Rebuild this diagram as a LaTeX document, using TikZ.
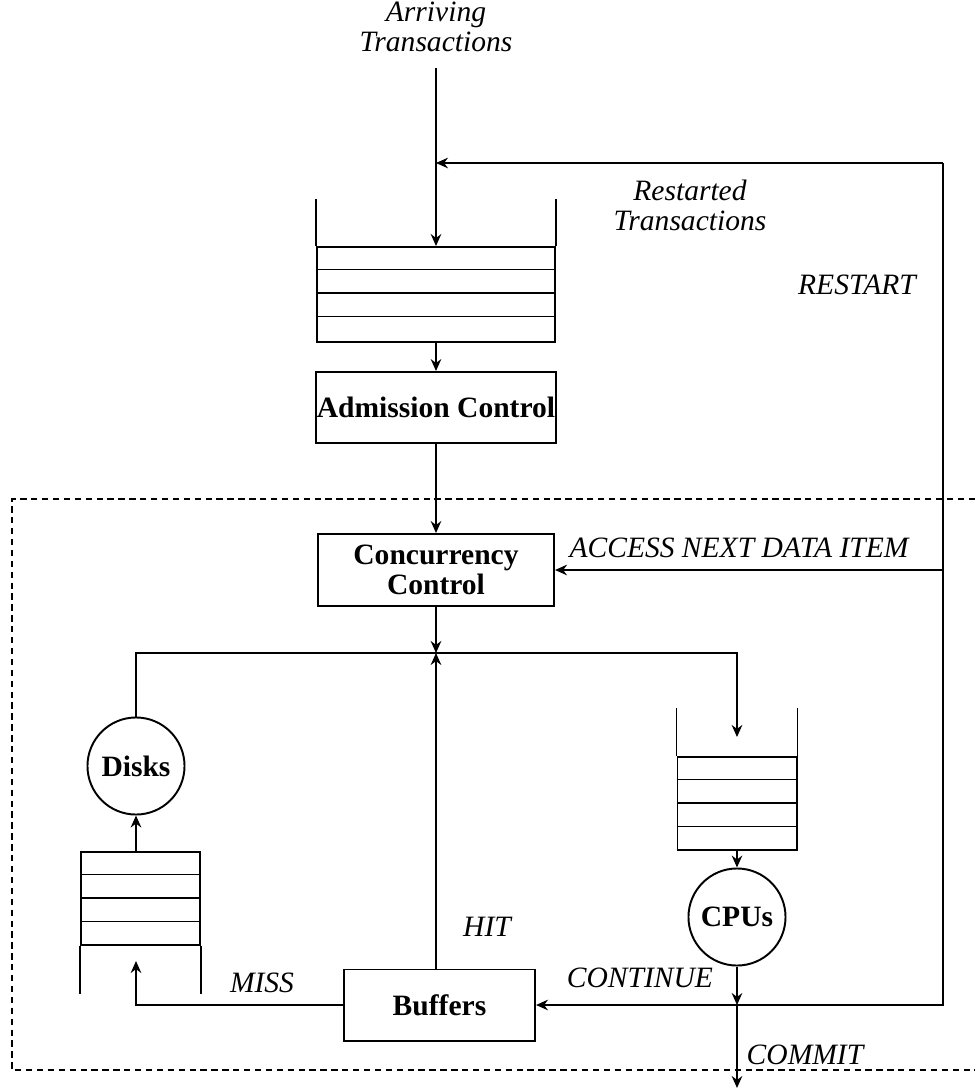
\documentclass[tikz,border=0pt]{standalone}
\usepackage{fontspec}
\setmainfont{Liberation Serif}
\usetikzlibrary{arrows.meta,positioning}

\begin{document}
\begin{tikzpicture}[
    x=0.01cm, y=-0.01cm, line width=0.55pt,
    >={Stealth[length=3.4pt, width=3pt]},
    box/.style={draw, inner sep=0pt, align=center,
        font=\fontsize{8.4pt}{7.4pt}\selectfont\bfseries},
    server/.style={draw, circle, minimum size=0.97cm, inner sep=0pt,
        font=\fontsize{8.4pt}{8.6pt}\selectfont\bfseries},
    slots/.style={draw, inner sep=0pt, minimum width=1.19cm, minimum height=0.93cm},
    lbl/.style={font=\fontsize{8.4pt}{8.5pt}\selectfont\itshape, align=center},
    region/.style={dash pattern=on 1.8pt off 1.3pt, line width=0.4pt},
]
\useasboundingbox (0,0) rectangle (975,1090);
\def\sh{23.5}

% Arrivals and the input queue
\node[lbl] (arr) at (436,27) {Arriving\\Transactions};
\node[lbl] (rst) at (690,205) {Restarted\\Transactions};
\node[lbl] (rsl) at (857,285) {RESTART};

\node[slots, minimum width=2.38cm, minimum height=0.95cm] (qin) at (436,294.5) {};
\foreach \k in {1,2,3} {
    \draw ([yshift=-\k*\sh*0.01cm]qin.north west) -- ([yshift=-\k*\sh*0.01cm]qin.north east);
}
\draw (qin.north west) -- ++(0,-47);
\draw (qin.north east) -- ++(0,-47);

\node[box, minimum width=2.39cm, minimum height=0.71cm] (adm) at (436,407.5) {Admission Control};
\node[box, minimum width=2.36cm, minimum height=0.72cm] (cc) at (436,570) {Concurrency\\Control};

% Disk side
\node[server] (disks) at (136,766) {Disks};
\node[slots] (qdisk) at (140.5,898.5) {};
\foreach \k in {1,2,3} {
    \draw ([yshift=-\k*\sh*0.01cm]qdisk.north west) -- ([yshift=-\k*\sh*0.01cm]qdisk.north east);
}
\draw (qdisk.south west) -- ++(0,48);
\draw (qdisk.south east) -- ++(0,48);

% CPU side
\node[slots] (qcpu) at (737,803.5) {};
\foreach \k in {1,2,3} {
    \draw ([yshift=-\k*\sh*0.01cm]qcpu.north west) -- ([yshift=-\k*\sh*0.01cm]qcpu.north east);
}
\draw (qcpu.north west) -- ++(0,-48);
\draw (qcpu.north east) -- ++(0,-48);
\node[server] (cpu) at (737,917) {CPUs};

\node[box, minimum width=1.91cm, minimum height=0.71cm] (buf) at (439.5,1005) {Buffers};

% Branch points
\coordinate (jn) at (436,653);
\coordinate (cj) at (737,1005);
\coordinate (rbot) at (943,1005);
\coordinate (rtop) at (943,163);
\coordinate (rin) at (436,163);
\coordinate (out) at (737,1088);

% Flow
\draw[->, shorten <=1pt] (arr.south) -- (qin.north);
\draw[->] (qin.south) -- (adm.north);
\draw[->] (adm.south) -- (cc.north);
\draw[->] (cc.south) -- (jn);
\draw[->] (buf.north -| jn) -- (jn);
\draw (disks.north) |- (jn);
\draw[->, shorten >=0.19cm] (jn) -| (qcpu.north);
\draw[->] (qcpu.south) -- (cpu.north);
\draw[->] (cpu.south) -- (cj);
\draw[->] (cj) -- (out);
\draw[->] (qdisk.north -| disks) -- (disks.south);
\draw[->, shorten >=0.15cm] (buf.west) -| (qdisk.south -| disks);

% Continue / restart loop
\draw[->] (cj) -- (buf.east);
\draw (cj) -- (rbot) -- (rtop);
\draw[->] (rtop) -- (rin);
\draw[->] (rtop |- cc.east) -- (cc.east);

% Edge labels
\node[lbl] (acc) at (739,548) {ACCESS NEXT DATA ITEM};
\node[lbl] (miss) at (262,983) {MISS};
\node[lbl] (hit) at (487,927) {HIT};
\node[lbl] (cont) at (640,978) {CONTINUE};
\node[lbl] (cmt) at (805,1055) {COMMIT};

% Dashed system boundary
\draw[region] (975,499) -- (12,499) -- (12,1070) -- (975,1070);

\end{tikzpicture}
\end{document}
